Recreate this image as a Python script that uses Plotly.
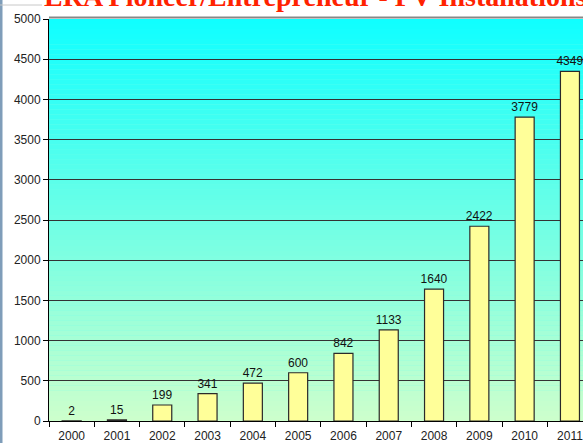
import plotly.graph_objects as go

years = ["2000", "2001", "2002", "2003", "2004", "2005", "2006", "2007", "2008", "2009", "2010", "2011"]
installations = [2, 15, 199, 341, 472, 600, 842, 1133, 1640, 2422, 3779, 4349]
y_ticks = [0, 500, 1000, 1500, 2000, 2500, 3000, 3500, 4000, 4500, 5000]
title_text = "ERA Pioneer/Entrepreneur - PV Installations"

fig = go.Figure()
fig.add_trace(go.Bar(
    x=years, y=installations,
    width=0.42,
    marker=dict(color="#FFFF99", line=dict(color="#2a2a2a", width=1.2)),
    text=[str(v) for v in installations],
    textposition="outside",
    constraintext="none",
    textfont=dict(family="Liberation Sans, Arial", size=12, color="#111111"),
    cliponaxis=False,
))

# gradient background strips (cyan top -> light green bottom)
shapes = []
n = 80
top = (16, 255, 255)
bot = (204, 255, 204)
for i in range(n):
    t = i / (n - 1)
    c = tuple(int(round(bot[k] + (top[k] - bot[k]) * t)) for k in range(3))
    shapes.append(dict(type="rect", xref="paper", yref="paper",
                       x0=0, x1=1, y0=i / n, y1=(i + 1) / n,
                       fillcolor="rgb(%d,%d,%d)" % c, line=dict(width=0), layer="below"))
# slide left border and top rule
shapes.append(dict(type="line", xref="paper", yref="paper", x0=-48/534, x1=-48/534, y0=-1, y1=2,
                   line=dict(color="#7F9DB9", width=3)))
shapes.append(dict(type="line", xref="paper", yref="paper", x0=-49/534, x1=-7/534, y0=1+14/402, y1=1+14/402,
                   line=dict(color="#C8C8C8", width=1)))
# top border of plot
shapes.append(dict(type="line", xref="paper", yref="paper", x0=0, x1=1, y0=1+1.5/402, y1=1+1.5/402,
                   line=dict(color="#888888", width=2)))

fig.update_layout(
    width=583, height=443,
    margin=dict(l=49, r=0, t=19, b=22),
    paper_bgcolor="white",
    plot_bgcolor="rgb(120,255,230)",
    showlegend=False,
    shapes=shapes,
    annotations=[dict(text="<b>" + title_text + "</b>", xref="paper", yref="paper",
                      x=-7/534, y=1 + 4.6/402, xanchor="left", yanchor="bottom",
                      showarrow=False,
                      font=dict(family="Liberation Serif, Times New Roman", size=28, color="#FF2200"))],
    xaxis=dict(
        range=[-0.5, -0.5 + 534/45.3],
        showline=True, linecolor="black", linewidth=1,
        ticks="outside", ticklen=5, tickcolor="black",
        tickson="boundaries",
        ticklabelstandoff=4,
        tickfont=dict(family="Liberation Sans, Arial", size=12, color="#222222"),
        showgrid=False,
    ),
    yaxis=dict(
        range=[0, 5000],
        tickvals=y_ticks,
        showline=True, linecolor="black", linewidth=1,
        ticks="outside", ticklen=5, tickcolor="black",
        showgrid=True, gridcolor="#333333", gridwidth=1,
        tickfont=dict(family="Liberation Sans, Arial", size=12, color="#222222"),
        zeroline=False,
    ),
)

fig.write_html("out.html", config={"displayModeBar": False})

# remove default page margins so the figure fills the window exactly
with open("out.html", "r", encoding="utf-8") as f:
    html = f.read()
html = html.replace("<head>", "<head><style>html,body{margin:0;padding:0;overflow:hidden;}</style>", 1)
with open("out.html", "w", encoding="utf-8") as f:
    f.write(html)
